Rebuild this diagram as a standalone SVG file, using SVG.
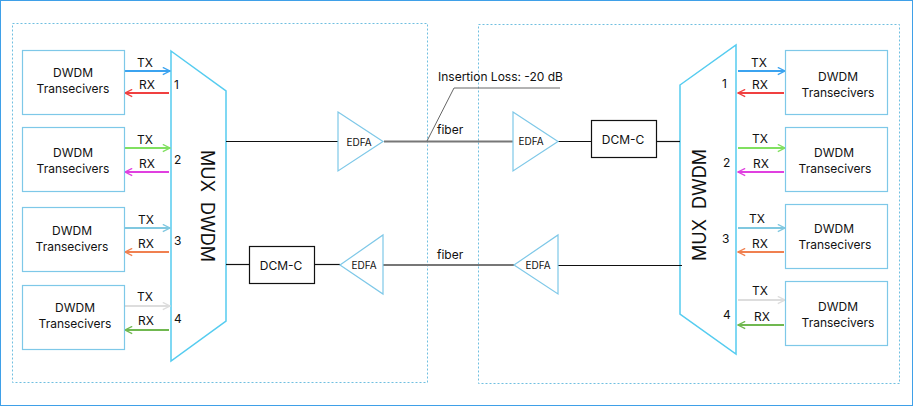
<svg xmlns="http://www.w3.org/2000/svg" width="913" height="406" viewBox="0 0 913 406">
<defs>
<style>
text{font-family:Inter,"Noto Sans",sans-serif;fill:#111}
.box{fill:#fff;stroke:#7ec8e8;stroke-width:1.2}
.grp{fill:none;stroke:#6fbfe0;stroke-dasharray:2 2}
.mux{fill:#fff;stroke:#55ccf0;stroke-width:1.5}
.amp{fill:#fff;stroke:#7ec8e8;stroke-width:1.2}
.t{font-size:12px;text-anchor:middle}
.l{font-size:12px}
.blk{stroke:#111;stroke-width:1.2;fill:none}
.fib{stroke:#777;stroke-width:2;fill:none}
</style>
<marker id="ah" viewBox="0 0 10 10" refX="9" refY="5" markerWidth="9" markerHeight="9" orient="auto-start-reverse" markerUnits="userSpaceOnUse"><path d="M1 1L9 5L1 9" fill="none" stroke="context-stroke" stroke-width="1.5"/></marker>
</defs>
<rect x="0.5" y="0.5" width="912" height="405" fill="#fff" stroke="#3fa0e8"/>
<rect class="grp" x="12.5" y="23.5" width="415" height="359"/>
<rect class="grp" x="478.5" y="24.5" width="421" height="359"/>
<g id="mux-left"><polygon class="mux" points="171,51 226,91 226,321 171,361"/><text transform="translate(201,206) rotate(90)" class="t" style="font-size:18px;white-space:pre">MUX  DWDM</text></g>
<g id="mux-right"><polygon class="mux" points="680,85 736,45 736,354 680,314"/><text transform="translate(706,205) rotate(-90)" class="t" style="font-size:18px;white-space:pre">MUX  DWDM</text></g>
<g id="connectors">
<g stroke-width="2" marker-end="url(#ah)">
<line x1="124" y1="71" x2="170" y2="71" stroke="#3ba3f0"/>
<line x1="169" y1="93" x2="125" y2="93" stroke="#f04040"/>
<line x1="124" y1="148" x2="170" y2="148" stroke="#80e060"/>
<line x1="169" y1="172" x2="125" y2="172" stroke="#e040e0"/>
<line x1="124" y1="228" x2="170" y2="228" stroke="#80c8e0"/>
<line x1="169" y1="252" x2="125" y2="252" stroke="#f08050"/>
<line x1="124" y1="306" x2="170" y2="306" stroke="#dddddd"/>
<line x1="169" y1="330" x2="125" y2="330" stroke="#70b850"/>
<line x1="738" y1="71" x2="785" y2="71" stroke="#3ba3f0"/>
<line x1="784" y1="93" x2="738" y2="93" stroke="#f04040"/>
<line x1="738" y1="148" x2="785" y2="148" stroke="#80e060"/>
<line x1="784" y1="172" x2="738" y2="172" stroke="#e040e0"/>
<line x1="738" y1="228" x2="785" y2="228" stroke="#80c8e0"/>
<line x1="784" y1="252" x2="738" y2="252" stroke="#f08050"/>
<line x1="738" y1="300" x2="785" y2="300" stroke="#dddddd"/>
<line x1="784" y1="325" x2="738" y2="325" stroke="#70b850"/>
</g>
<line class="blk" x1="226" y1="141.5" x2="338" y2="141.5"/>
<line class="fib" x1="384" y1="141.5" x2="513" y2="141.5"/>
<line class="blk" x1="558" y1="141.5" x2="591" y2="141.5"/>
<line class="blk" x1="656" y1="141.5" x2="680" y2="141.5"/>
<line class="blk" x1="226" y1="264.5" x2="249" y2="264.5"/>
<line class="blk" x1="314" y1="264.5" x2="340" y2="264.5"/>
<line class="fib" x1="383" y1="265" x2="514" y2="265"/>
<line class="blk" x1="558" y1="265.5" x2="682" y2="265.5"/>
<polyline points="427,141 454,88 560,88" fill="none" stroke="#666" stroke-width="1"/>
</g>
<g class="l">
<text x="137" y="67" class="l">TX</text><text x="139" y="89" class="l">RX</text>
<text x="137" y="144" class="l">TX</text><text x="139" y="168" class="l">RX</text>
<text x="138" y="224" class="l">TX</text><text x="138" y="248" class="l">RX</text>
<text x="137" y="301" class="l">TX</text><text x="138" y="325" class="l">RX</text>
<text x="751" y="67" class="l">TX</text><text x="752" y="89" class="l">RX</text>
<text x="752" y="143" class="l">TX</text><text x="753" y="168" class="l">RX</text>
<text x="749" y="223" class="l">TX</text><text x="752" y="248" class="l">RX</text>
<text x="752" y="295" class="l">TX</text><text x="754" y="321" class="l">RX</text>
<text x="174" y="89" class="l">1</text><text x="174" y="164" class="l">2</text><text x="174" y="245" class="l">3</text><text x="174" y="323" class="l">4</text>
<text x="722" y="88" class="l">1</text><text x="723" y="167" class="l">2</text><text x="722" y="243" class="l">3</text><text x="723" y="319" class="l">4</text>
<text x="438" y="81" class="l">Insertion Loss: -20 dB</text>
<text x="437" y="134" class="l">fiber</text>
<text x="437" y="259" class="l">fiber</text>
</g>
<g id="tl1"><rect class="box" x="22.5" y="50.5" width="102" height="64"/><text class="t" x="73" y="77">DWDM</text><text class="t" x="73" y="93">Transecivers</text></g>
<g id="tl2"><rect class="box" x="22.5" y="127.5" width="102" height="64"/><text class="t" x="73" y="157">DWDM</text><text class="t" x="73" y="173">Transecivers</text></g>
<g id="tl3"><rect class="box" x="22.5" y="207.5" width="102" height="64"/><text class="t" x="72" y="235">DWDM</text><text class="t" x="72" y="251">Transecivers</text></g>
<g id="tl4"><rect class="box" x="22.5" y="285.5" width="102" height="64"/><text class="t" x="75" y="312">DWDM</text><text class="t" x="75" y="328">Transecivers</text></g>
<g id="tr1"><rect class="box" x="785.5" y="50.5" width="102" height="64"/><text class="t" x="838" y="81">DWDM</text><text class="t" x="838" y="97">Transecivers</text></g>
<g id="tr2"><rect class="box" x="785.5" y="127.5" width="102" height="64"/><text class="t" x="834" y="157">DWDM</text><text class="t" x="835" y="173">Transecivers</text></g>
<g id="tr3"><rect class="box" x="785.5" y="204.5" width="102" height="64"/><text class="t" x="834" y="233">DWDM</text><text class="t" x="835" y="249">Transecivers</text></g>
<g id="tr4"><rect class="box" x="785.5" y="281.5" width="102" height="64"/><text class="t" x="838" y="311">DWDM</text><text class="t" x="838" y="327">Transecivers</text></g>
<g id="edfa1"><polygon class="amp" points="338,112 383,141.5 338,171"/><text class="t" x="359" y="146" style="font-size:10px">EDFA</text></g>
<g id="edfa2"><polygon class="amp" points="513,112 558,141.5 513,171"/><text class="t" x="531" y="145" style="font-size:10px">EDFA</text></g>
<g id="edfa3"><polygon class="amp" points="340,265 383,235 383,294"/><text class="t" x="364" y="269" style="font-size:10px">EDFA</text></g>
<g id="edfa4"><polygon class="amp" points="514,265 558,235 558,294"/><text class="t" x="538" y="269" style="font-size:10px">EDFA</text></g>
<g id="dcm1"><rect x="591.5" y="120.5" width="65" height="37" fill="#fff" stroke="#111" stroke-width="1.2"/><text class="t" x="623" y="144">DCM-C</text></g>
<g id="dcm2"><rect x="249.5" y="246.5" width="65" height="37" fill="#fff" stroke="#111" stroke-width="1.2"/><text class="t" x="281" y="270">DCM-C</text></g>
</svg>
